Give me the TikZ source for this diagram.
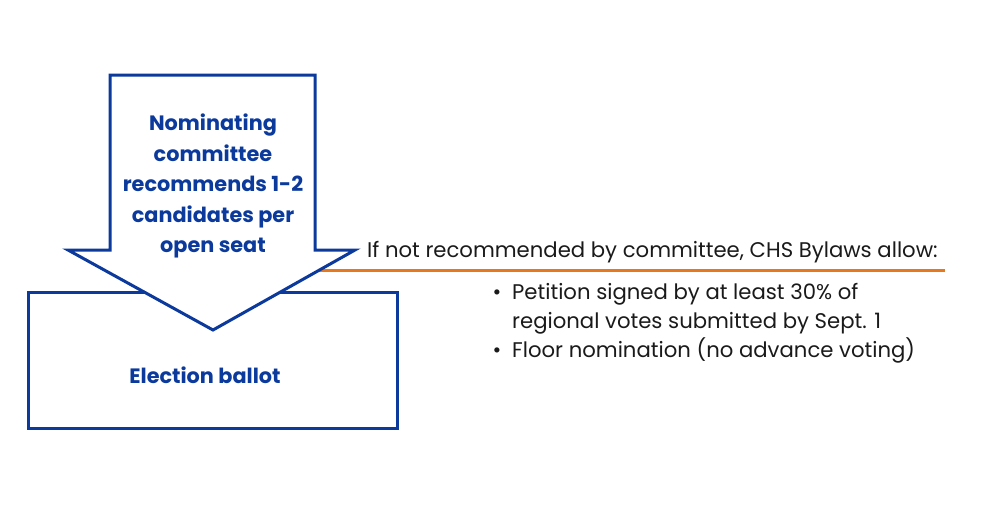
\documentclass[tikz,border=0pt]{standalone}
\usepackage{fontspec}
\setmainfont{Poppins}
\definecolor{navy}{HTML}{0B3A9C}
\definecolor{orng}{HTML}{E8781E}
\definecolor{txt}{HTML}{1A1A1A}
\begin{document}
\begin{tikzpicture}[x=1pt,y=-1pt,
  shapeline/.style={draw=navy,line width=3pt,fill=white,line join=miter},
  bluetext/.style={text=navy,font=\fontsize{20.8}{30.5}\selectfont\bfseries,align=center,inner sep=0pt},
  plaintext/.style={text=txt,font=\fontsize{21.2}{24}\selectfont,inner sep=0pt,anchor=base west}]
\useasboundingbox (0,0) rectangle (990,520);
% ballot box
\draw[shapeline] (28,292) rectangle (397,428);
\node[bluetext] (ballot) at (205,375) {Election ballot};
% orange rule
\coordinate (ruleL) at (300,270);
\coordinate (ruleR) at (945,270);
\draw[orng,line width=3pt] (ruleL) -- (ruleR);
% arrow
\draw[shapeline] (110,75) -- (315,75) -- (315,250) -- (355,250) -- (213,330) -- (68,250) -- (110,250) -- cycle;
\node[bluetext] (nom) at (213,186) {Nominating\\committee\\recommends 1-2\\candidates per\\open seat};
% right text
\node[plaintext] (head) at (367,257) {If not recommended by committee, CHS Bylaws allow:};
\node[plaintext,anchor=base] (b1) at (497,299) {\textbullet};
\node[plaintext] (t1) at (512,299) {Petition signed by at least 30\% of};
\node[plaintext] (t1b) at (512,328) {regional votes submitted by Sept. 1};
\node[plaintext,anchor=base] (b2) at (497,357) {\textbullet};
\node[plaintext] (t2) at (512,357) {Floor nomination (no advance voting)};
\end{tikzpicture}
\end{document}
